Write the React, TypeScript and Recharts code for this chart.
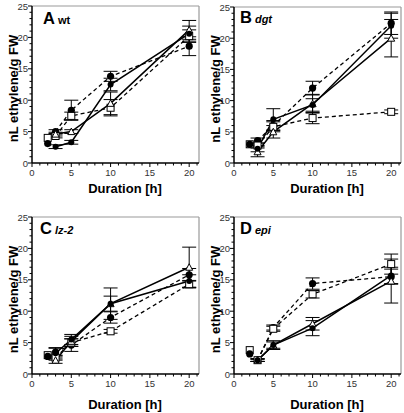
import React from 'react';
import { LineChart, Line, XAxis, YAxis, ErrorBar, ReferenceLine, Label } from 'recharts';

// sampling times in hours
const hours = [2, 3, 5, 10, 20];

// panel A (wt)
const aBaseDot = [3.1, null, null, null, null];
const aBaseBox = [4.0, null, null, null, null];
const aSolidDot = [null, 2.6, 3.3, 12.5, 20.6];
const aSolidDotErr = [0, 0.3, 0.3, 1.0, 1.2];
const aSolidTri = [null, 4.6, 5.0, 9.5, 21.2];
const aSolidTriErr = [0, 0.3, 0.3, 1.8, 1.5];
const aDashDot = [null, 5.0, 8.4, 13.8, 18.6];
const aDashDotErr = [0, 0.3, 1.6, 0.8, 1.5];
const aDashBox = [null, 4.3, 7.5, 8.8, 20.2];
const aDashBoxErr = [0, 0.3, 0.6, 1.3, 1.0];

// panel B (dgt)
const bBaseDot = [3.0, null, null, null, null];
const bBaseBox = [3.0, null, null, null, null];
const bSolidDot = [null, 2.3, 7.0, 9.3, 22.0];
const bSolidDotErr = [0, 0.5, 1.7, 1.0, 2.0];
const bSolidTri = [null, 1.8, 5.0, 9.5, 20.0];
const bSolidTriErr = [0, 0.8, 1.0, 1.5, 3.0];
const bDashDot = [null, 3.6, 6.0, 12.0, 22.4];
const bDashDotErr = [0, 0.4, 0.8, 1.1, 1.8];
const bDashBox = [null, 2.8, 5.8, 7.2, 8.2];
const bDashBoxErr = [0, 0.4, 0.8, 0.9, 0.3];

// panel C (lz-2)
const cBaseDot = [2.8, null, null, null, null];
const cBaseBox = [3.0, null, null, null, null];
const cSolidDot = [null, 3.3, 5.5, 11.2, 14.8];
const cSolidDotErr = [0, 0.9, 0.8, 1.2, 1.0];
const cSolidTri = [null, 2.2, 5.2, 11.2, 17.0];
const cSolidTriErr = [0, 0.5, 0.8, 2.5, 3.2];
const cDashDot = [null, 3.5, 4.6, 9.0, 15.8];
const cDashDotErr = [0, 0.6, 1.0, 0.9, 1.0];
const cDashBox = [null, 2.6, 5.0, 6.8, 14.3];
const cDashBoxErr = [0, 0.4, 0.6, 0.3, 0.6];

// panel D (epi)
const dBaseDot = [3.2, null, null, null, null];
const dBaseBox = [3.8, null, null, null, null];
const dSolidDot = [null, 2.2, 4.6, 7.3, 15.7];
const dSolidDotErr = [0, 0.2, 0.5, 1.2, 1.3];
const dSolidTri = [null, 2.2, 4.6, 8.0, 14.8];
const dSolidTriErr = [0, 0.2, 0.7, 1.0, 3.5];
const dDashDot = [null, 2.2, 7.4, 14.4, 15.5];
const dDashDotErr = [0, 0.2, 0.4, 0.9, 1.2];
const dDashBox = [null, 2.2, 7.2, 12.7, 17.5];
const dDashBoxErr = [0, 0.2, 0.4, 0.6, 1.6];

const xTicks = [0, 1, 2, 3, 4, 5, 6, 7, 8, 9, 10, 11, 12, 13, 14, 15, 16, 17, 18, 19, 20, 21];
const yTicks = [0, 1, 2, 3, 4, 5, 6, 7, 8, 9, 10, 11, 12, 13, 14, 15, 16, 17, 18, 19, 20, 21, 22, 23, 24, 25];
const xMax = 21.25;

const FONT = '"Liberation Sans", Arial, Helvetica, sans-serif';

const buildRows = (
  bd: (number | null)[], bb: (number | null)[],
  s1: (number | null)[], e1: number[],
  s2: (number | null)[], e2: number[],
  s3: (number | null)[], e3: number[],
  s4: (number | null)[], e4: number[]
) =>
  hours.map((t, i) => ({
    t, bd: bd[i], bb: bb[i],
    s1: s1[i], e1: e1[i], s2: s2[i], e2: e2[i],
    s3: s3[i], e3: e3[i], s4: s4[i], e4: e4[i],
  }));

const panels = [
  {
    letter: 'A', name: 'wt', italic: false, left: 0, top: 0, h: 206,
    mTop: 6, mBottom: 43, xLabelDy: 30, letterX: 43, base: 24,
    rows: buildRows(aBaseDot, aBaseBox, aSolidDot, aSolidDotErr, aSolidTri, aSolidTriErr, aDashDot, aDashDotErr, aDashBox, aDashBoxErr),
  },
  {
    letter: 'B', name: 'dgt', italic: true, left: 202, top: 0, h: 206,
    mTop: 7, mBottom: 43, xLabelDy: 30, letterX: 38, base: 23,
    rows: buildRows(bBaseDot, bBaseBox, bSolidDot, bSolidDotErr, bSolidTri, bSolidTriErr, bDashDot, bDashDotErr, bDashBox, bDashBoxErr),
  },
  {
    letter: 'C', name: 'lz-2', italic: true, left: 0, top: 206, h: 207,
    mTop: 11, mBottom: 39, xLabelDy: 35, letterX: 40, base: 28,
    rows: buildRows(cBaseDot, cBaseBox, cSolidDot, cSolidDotErr, cSolidTri, cSolidTriErr, cDashDot, cDashDotErr, cDashBox, cDashBoxErr),
  },
  {
    letter: 'D', name: 'epi', italic: true, left: 202, top: 206, h: 207,
    mTop: 11, mBottom: 39, xLabelDy: 35, letterX: 38, base: 28,
    rows: buildRows(dBaseDot, dBaseBox, dSolidDot, dSolidDotErr, dSolidTri, dSolidTriErr, dDashDot, dDashDotErr, dDashBox, dDashBoxErr),
  },
];

const XTick = (props: any) => {
  const { x, y, payload } = props;
  const major = payload.value % 5 === 0;
  return (
    <g>
      <line x1={x} y1={y} x2={x} y2={y + (major ? 4 : 2.5)} stroke="#000" strokeWidth={1} />
      {major && (
        <text x={x} y={y + 13} textAnchor="middle" fontSize={9.5} fontFamily={FONT} fill="#333">
          {payload.value}
        </text>
      )}
    </g>
  );
};

const YTick = (props: any) => {
  const { x, y, payload } = props;
  const major = payload.value % 5 === 0;
  return (
    <g>
      <line x1={x} y1={y} x2={x - (major ? 4 : 2.5)} y2={y} stroke="#000" strokeWidth={1} />
      {major && (
        <text x={x - 4} y={y + 3.5} textAnchor="end" fontSize={9.5} fontFamily={FONT} fill="#333">
          {payload.value}
        </text>
      )}
    </g>
  );
};

const dotShape = (r: number) => (p: any) => {
  if (p.cy == null || p.value == null) return <g key={p.index} />;
  return <circle key={p.index} cx={p.cx} cy={p.cy} r={r} fill="#000" stroke="none" />;
};

const boxShape = (p: any) => {
  if (p.cy == null || p.value == null) return <g key={p.index} />;
  return <rect key={p.index} x={p.cx - 3.5} y={p.cy - 3.5} width={7} height={7} fill="#fff" stroke="#000" strokeWidth={1} />;
};

const triShape = (p: any) => {
  if (p.cy == null || p.value == null) return <g key={p.index} />;
  const { cx, cy } = p;
  return (
    <polygon
      key={p.index}
      points={`${cx},${cy - 3.5} ${cx + 3.5},${cy + 3} ${cx - 3.5},${cy + 3}`}
      fill="#fff"
      stroke="#000"
      strokeWidth={1}
    />
  );
};

const Panel = ({ cfg }: { cfg: any }) => (
  <div style={{ position: 'absolute', left: cfg.left, top: cfg.top, width: 202, height: cfg.h }}>
    <LineChart
      width={202}
      height={cfg.h}
      data={cfg.rows}
      margin={{ top: cfg.mTop, right: 3, left: 0, bottom: cfg.mBottom - 30 }}
    >
      <ReferenceLine y={25} stroke="#999" strokeWidth={1.2} />
      <ReferenceLine x={xMax} stroke="#999" strokeWidth={1.2} />
      <XAxis
        type="number"
        dataKey="t"
        domain={[0, xMax]}
        ticks={xTicks}
        interval={0}
        height={30}
        tickSize={0}
        tickMargin={0}
        tickLine={false}
        tick={<XTick />}
        axisLine={{ stroke: '#000', strokeWidth: 1.5 }}
        allowDataOverflow
      >
        <Label
          content={(p: any) => (
            <text
              x={p.viewBox.x + 93}
              y={p.viewBox.y + cfg.xLabelDy}
              textAnchor="middle"
              fontSize={13}
              fontWeight="bold"
              fontFamily={FONT}
              fill="#000"
            >
              Duration [h]
            </text>
          )}
        />
      </XAxis>
      <YAxis
        type="number"
        domain={[0, 25]}
        ticks={yTicks}
        interval={0}
        width={32}
        tickSize={0}
        tickMargin={0}
        tickLine={false}
        tick={<YTick />}
        axisLine={{ stroke: '#000', strokeWidth: 1.5 }}
        allowDataOverflow
      >
        <Label
          content={(p: any) => {
            const cx = 13;
            const cy = p.viewBox.y + p.viewBox.height / 2 + 4;
            return (
              <text
                x={cx}
                y={cy}
                transform={`rotate(-90 ${cx} ${cy})`}
                textAnchor="middle"
                dominantBaseline="central"
                fontSize={13}
                fontWeight="bold"
                fontFamily={FONT}
                fill="#000"
              >
                nL ethylene/g FW
              </text>
            );
          }}
        />
      </YAxis>
      <Line dataKey="s3" stroke="#000" strokeWidth={1.3} strokeDasharray="4 3" dot={dotShape(3.6)} isAnimationActive={false}>
        <ErrorBar dataKey="e3" width={7} stroke="#000" strokeWidth={1} direction="y" />
      </Line>
      <Line dataKey="s4" stroke="#000" strokeWidth={1.3} strokeDasharray="4 3" dot={boxShape} isAnimationActive={false}>
        <ErrorBar dataKey="e4" width={7} stroke="#000" strokeWidth={1} direction="y" />
      </Line>
      <Line dataKey="s2" stroke="#000" strokeWidth={1.5} dot={triShape} isAnimationActive={false}>
        <ErrorBar dataKey="e2" width={7} stroke="#000" strokeWidth={1} direction="y" />
      </Line>
      <Line dataKey="s1" stroke="#000" strokeWidth={1.5} dot={dotShape(3)} isAnimationActive={false}>
        <ErrorBar dataKey="e1" width={7} stroke="#000" strokeWidth={1} direction="y" />
      </Line>
      <Line dataKey="bb" stroke="none" dot={boxShape} isAnimationActive={false} />
      <Line dataKey="bd" stroke="none" dot={dotShape(3.6)} isAnimationActive={false} />
    </LineChart>
    <svg width={202} height={40} style={{ position: 'absolute', left: 0, top: 0, pointerEvents: 'none' }}>
      <text x={cfg.letterX} y={cfg.base} fontFamily={FONT} fontWeight="bold" fill="#000">
        <tspan fontSize={16.5}>{cfg.letter}</tspan>
        <tspan fontSize={11} dx={3} fontStyle={cfg.italic ? 'italic' : 'normal'}>{cfg.name}</tspan>
      </text>
    </svg>
  </div>
);

export default function App() {
  return (
    <div style={{ position: 'absolute', left: 0, top: 0, width: 404, height: 413, background: '#fff', overflow: 'hidden' }}>
      {panels.map((cfg) => (
        <Panel key={cfg.letter} cfg={cfg} />
      ))}
    </div>
  );
}
